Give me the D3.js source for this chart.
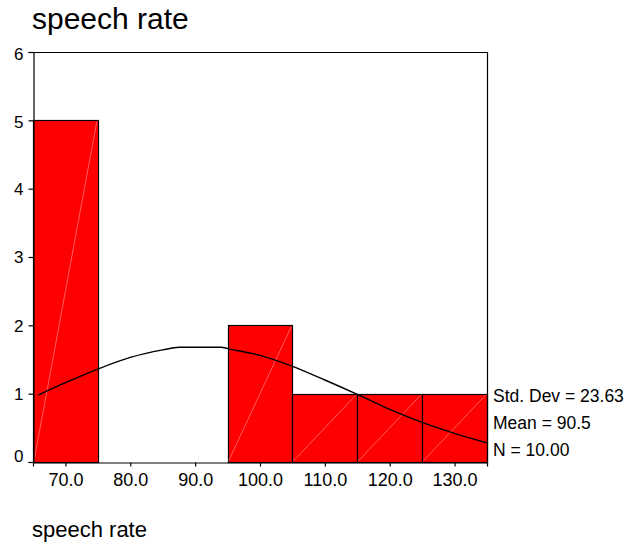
<!DOCTYPE html>
<html>
<head>
<meta charset="utf-8">
<script src="https://cdn.jsdelivr.net/npm/d3@7"></script>
<style>
  html, body { margin: 0; padding: 0; background: #fff; }
  svg { display: block; font-family: Arial, "Liberation Sans", sans-serif; }
</style>
</head>
<body>
<svg id="chart" width="628" height="546"></svg>
<script>
// ---- data ----
const binStarts = [65, 75, 85, 95, 105, 115, 125];
const binWidth = 10;
const counts = [5, 0, 0, 2, 1, 1, 1];
const xTickValues = [70, 80, 90, 100, 110, 120, 130];
const xTickLabels = ["70.0", "80.0", "90.0", "100.0", "110.0", "120.0", "130.0"];
const yTickValues = [0, 1, 2, 3, 4, 5, 6];
const curveX = [65.8, 70, 75, 80, 85, 87.5, 94, 95, 100, 105, 110, 115, 120, 125, 130, 135];
const curveY = [0.98, 1.16, 1.36, 1.53, 1.64, 1.68, 1.68, 1.66, 1.56, 1.40, 1.20, 0.99, 0.77, 0.58, 0.42, 0.28];
const statsLines = ["Std. Dev = 23.63", "Mean = 90.5", "N = 10.00"];
const titleText = "speech rate";
const xAxisTitle = "speech rate";

// ---- layout ----
const svg = d3.select("#chart");
const pLeft = 33, pRight = 487, pTop = 52, pBottom = 462;
const x = d3.scaleLinear().domain([65, 135]).range([pLeft, pRight]);
const y = d3.scaleLinear().domain([0, 6]).range([pBottom, pTop]);

// title
svg.append("text").attr("x", 32).attr("y", 29)
  .attr("font-size", 30).attr("fill", "#000").text(titleText);

// bars
const bars = binStarts.map((s, i) => ({ s, c: counts[i] })).filter(d => d.c > 0);
const g = svg.append("g");
g.selectAll("rect.bar").data(bars).join("rect")
  .attr("class", "bar")
  .attr("x", d => Math.round(x(d.s)) + 0.5)
  .attr("y", d => Math.round(y(d.c)) + 0.5)
  .attr("width", d => Math.round(x(d.s + binWidth)) - Math.round(x(d.s)))
  .attr("height", d => Math.round(y(0)) - Math.round(y(d.c)))
  .attr("fill", "#ff0000").attr("stroke", "#000").attr("stroke-width", 1.2);

// faint diagonal hatch lines in bars
g.selectAll("line.diag").data(bars).join("line")
  .attr("class", "diag")
  .attr("x1", d => x(d.s) + 1).attr("y1", y(0) - 1)
  .attr("x2", d => x(d.s + binWidth) - 1).attr("y2", d => y(d.c) + 1)
  .attr("stroke", "#ff9a9a").attr("stroke-width", 0.6);

// frame: top & right
svg.append("path")
  .attr("d", `M${pLeft + 0.5},${pTop + 0.5}H${pRight + 0.5}V${pBottom + 0.5}`)
  .attr("fill", "none").attr("stroke", "#000").attr("stroke-width", 1.2);

// y axis
const yAxis = d3.axisLeft(y).tickValues(yTickValues).tickFormat(d3.format("d"))
  .tickSize(5).tickPadding(5);
const ya = svg.append("g").attr("transform", `translate(${pLeft + 0.5},0)`).call(yAxis);
ya.select(".domain").attr("stroke", "#000").attr("stroke-width", 1.2);
ya.selectAll(".tick line").attr("stroke", "#000").attr("stroke-width", 1.2);
ya.selectAll(".tick text").attr("font-size", 17).attr("font-family", "Arial, 'Liberation Sans', sans-serif")
  .attr("fill", "#000")
  .attr("dy", d => d === 0 ? "-0.05em" : (d === 6 || d === 5 ? "0.45em" : "0.34em"));

// x axis
const xAxis = d3.axisBottom(x).tickValues(xTickValues)
  .tickFormat((d, i) => xTickLabels[i]).tickSize(4).tickPadding(7);
const xa = svg.append("g").attr("transform", `translate(0,${pBottom + 0.5})`).call(xAxis);
xa.select(".domain").attr("stroke", "#000").attr("stroke-width", 1.2);
xa.selectAll(".tick line").attr("stroke", "#000").attr("stroke-width", 1.2);
xa.selectAll(".tick text").attr("font-size", 18).attr("font-family", "Arial, 'Liberation Sans', sans-serif")
  .attr("fill", "#000");

// normal curve
const line = d3.line().x(d => x(d[0])).y(d => y(d[1])).curve(d3.curveMonotoneX);
svg.append("path").datum(curveX.map((v, i) => [v, curveY[i]]))
  .attr("d", line).attr("fill", "none").attr("stroke", "#000").attr("stroke-width", 1.4);

// stats
svg.append("g").selectAll("text").data(statsLines).join("text")
  .attr("x", 493).attr("y", (d, i) => 401.5 + i * 27)
  .attr("font-size", 17.5).attr("fill", "#000").text(d => d);

// x axis title
svg.append("text").attr("x", 32).attr("y", 537)
  .attr("font-size", 22).attr("fill", "#000").text(xAxisTitle);
</script>
</body>
</html>
